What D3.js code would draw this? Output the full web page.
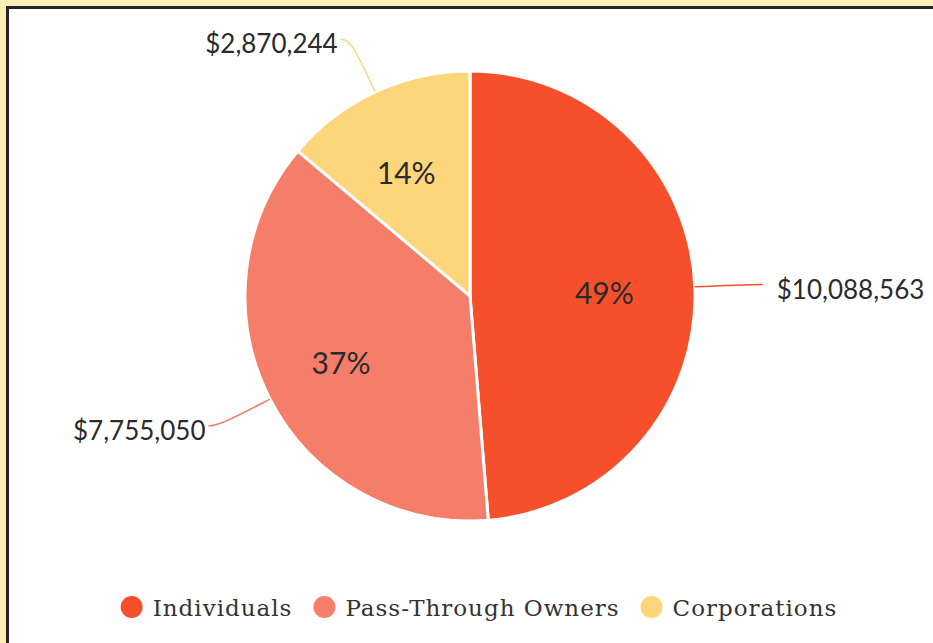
<!DOCTYPE html>
<html>
<head>
<meta charset="utf-8">
<script src="https://cdn.jsdelivr.net/npm/d3@7"></script>
<style>
  html, body { margin: 0; padding: 0; background: #fdedb9; overflow: hidden; }
  #frame {
    position: absolute; left: 6px; top: 6px;
    width: 960px; height: 680px;
    background: #fff;
    border-left: 3px solid #252525; border-top: 3px solid #252525;
  }
  svg { display: block; }
</style>
</head>
<body>
<div id="frame"><svg id="chart" width="960" height="680"></svg></div>
<script>
// data
const categories = ['Individuals', 'Pass-Through Owners', 'Corporations'];
const values = [10088563, 7755050, 2870244];
const colors = ['#f64f2c', '#f47e69', '#fdd67c'];

const cx = 461, cy = 287, radius = 225;

let svg = d3.select('#chart');
let g = svg.append('g').attr('transform', 'translate(' + cx + ',' + cy + ')');

let data = categories.map(function(c, i) { return { name: c, value: values[i], color: colors[i] }; });
let total = d3.sum(values);

let pie = d3.pie().sort(null).value(function(d) { return d.value; });
let arc = d3.arc().innerRadius(0).outerRadius(radius);
let arcs = pie(data);

g.selectAll('path.slice')
    .data(arcs)
    .enter().append('path')
    .attr('class', 'slice')
    .attr('d', arc)
    .attr('fill', function(d) { return d.data.color; })
    .attr('stroke', '#fff')
    .attr('stroke-width', 3);

// percentage labels
let labelArc = d3.arc().innerRadius(radius * 0.62).outerRadius(radius * 0.62);
g.selectAll('text.pct')
    .data(arcs)
    .enter().append('text')
    .attr('class', 'pct')
    .attr('x', function(d) { return labelArc.centroid(d)[0] - 5; })
    .attr('y', function(d) { return labelArc.centroid(d)[1] + 2; })
    .attr('text-anchor', 'middle')
    .attr('dominant-baseline', 'central')
    .attr('font-family', 'Lato, sans-serif')
    .attr('font-size', 30)
    .attr('fill', '#2b2b2b')
    .text(function(d) { return Math.round(d.data.value / total * 100) + '%'; });

// leader lines and value labels
let fmt = d3.format('$,');
let curve = d3.line().curve(d3.curveBasis);

function pt(d, r) {
    let a = (d.startAngle + d.endAngle) / 2;
    return [r * Math.sin(a), -r * Math.cos(a)];
}

arcs.forEach(function(d) {
    let p0 = pt(d, radius);
    let p1 = pt(d, radius + 58);
    let side = p1[0] >= 0 ? 1 : -1;
    let p2 = [p1[0] + side * 10, p1[1]];

    g.append('path')
        .attr('d', curve([p0, p1, p2]))
        .attr('fill', 'none')
        .attr('stroke', d.data.color)
        .attr('stroke-width', 1.5);

    g.append('text')
        .attr('x', p2[0] + side * (side > 0 ? 14 : 3))
        .attr('y', p2[1] + 4)
        .attr('text-anchor', side > 0 ? 'start' : 'end')
        .attr('dominant-baseline', 'central')
        .attr('font-family', 'Lato, sans-serif')
        .attr('font-size', 26)
        .attr('fill', '#2b2b2b')
        .text(fmt(d.data.value));
});

// legend
let legend = svg.append('g');
let lx = 0;
data.forEach(function(d) {
    let item = legend.append('g').attr('transform', 'translate(' + lx + ',0)');
    item.append('circle')
        .attr('cx', 11).attr('cy', 0).attr('r', 11)
        .attr('fill', d.color);
    let t = item.append('text')
        .attr('x', 32).attr('y', 1)
        .attr('dominant-baseline', 'central')
        .attr('font-family', '"DejaVu Serif", serif')
        .attr('font-size', 23)
        .attr('letter-spacing', 1)
        .attr('fill', '#333')
        .text(d.name);
    let w = t.node().getComputedTextLength();
    lx += 32 + w + 21;
});
let legendW = lx - 21;
legend.attr('transform', 'translate(' + (470 - legendW / 2) + ',' + 598 + ')');
</script>
</body>
</html>
